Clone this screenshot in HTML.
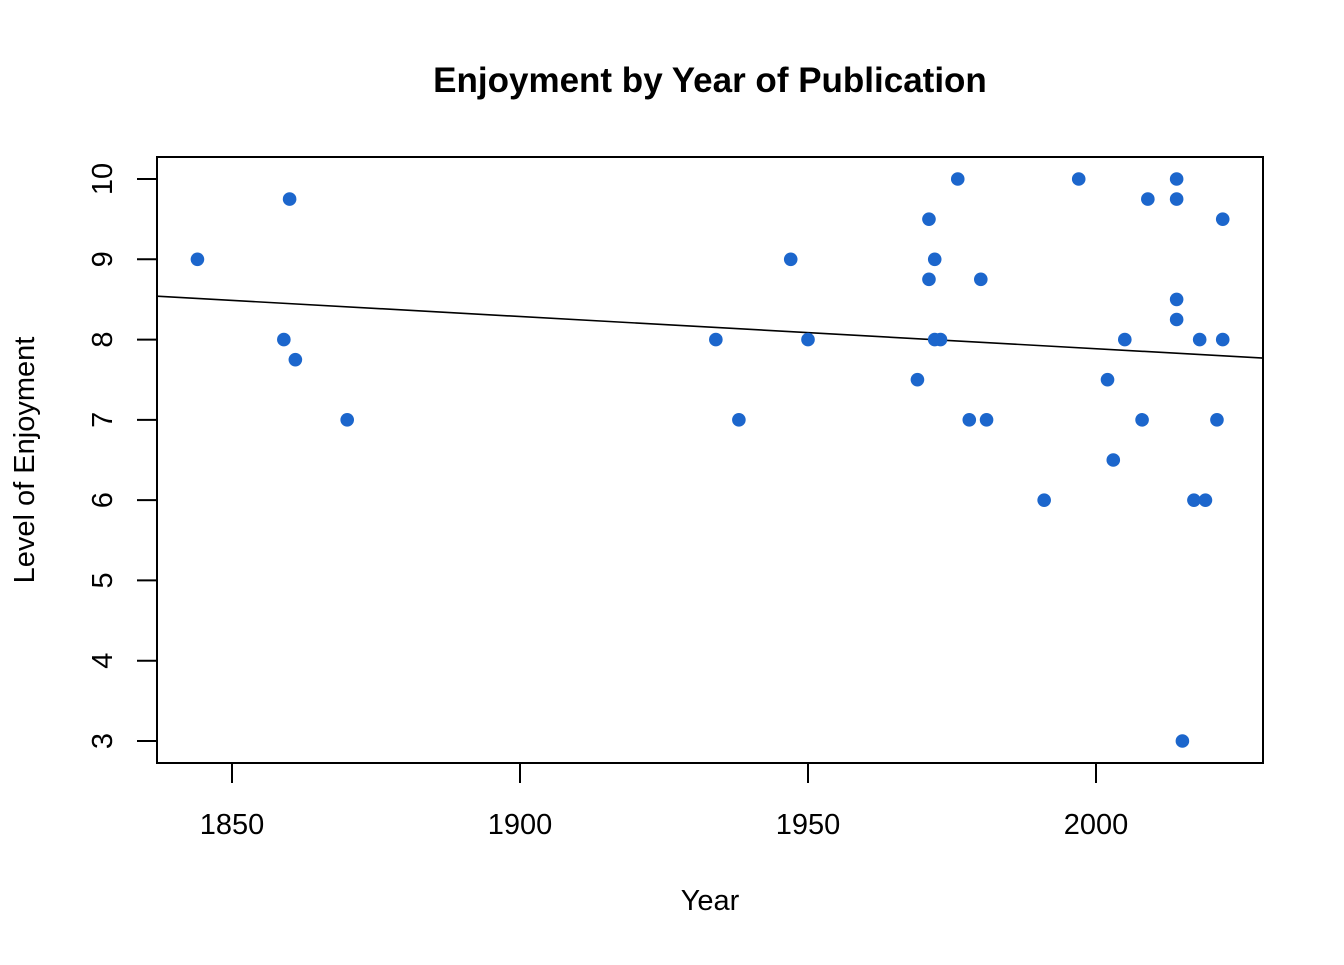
<!DOCTYPE html>
<html><head><meta charset="utf-8"><style>
body{margin:0;background:#fff}
svg text{font-family:"Liberation Sans",Arial,sans-serif}
</style></head><body>
<svg id="chart" width="1344" height="960" xmlns="http://www.w3.org/2000/svg">
<text x="710" y="92" text-anchor="middle" font-size="35" font-weight="bold">Enjoyment by Year of Publication</text>
<rect x="157" y="157" width="1106" height="606" fill="none" stroke="#000" stroke-width="2"/>
<text x="710" y="910" text-anchor="middle" font-size="29">Year</text>
<text transform="translate(34,460) rotate(-90)" text-anchor="middle" font-size="29">Level of Enjoyment</text>
<g id="xaxis"></g>
<g id="yaxis"></g>
<g id="fit"></g>
<g id="pts"></g>
</svg>
<script>
const years=[1844,1859,1860,1861,1870,1934,1938,1947,1950,1969,1971,1971,1972,1972,1973,1976,1978,1980,1981,1991,1997,2002,2003,2005,2008,2009,2014,2014,2014,2014,2015,2017,2018,2019,2021,2022,2022];
const enjoyment=[9,8,9.75,7.75,7,8,7,9,8,7.5,9.5,8.75,9,8,8,10,7,8.75,7,6,10,7.5,6.5,8,7,9.75,10,9.75,8.5,8.25,3,6,8,6,7,9.5,8];
const xTicks=[1850,1900,1950,2000];
const yTicks=[3,4,5,6,7,8,9,10];
const NS="http://www.w3.org/2000/svg";
function X(v){return 232+(v-1850)*5.76;}
function Y(v){return 179+(10-v)*80.286;}
function mk(t,a,p){const e=document.createElementNS(NS,t);for(const k in a)e.setAttribute(k,a[k]);p.appendChild(e);return e;}
const xa=document.getElementById('xaxis'),ya=document.getElementById('yaxis');
xTicks.forEach(v=>{
 const l=mk('line',{x1:X(v),x2:X(v),y1:763,y2:783,stroke:'#000','stroke-width':2},xa);
 
 
 const t=mk('text',{x:X(v),y:834,'text-anchor':'middle','font-size':29},xa);t.textContent=v;
 
 
});
yTicks.forEach(v=>{
 const l=mk('line',{x1:137,x2:157,y1:Y(v),y2:Y(v),stroke:'#000','stroke-width':2},ya);
 
 
 const t=mk('text',{x:0,y:0,'text-anchor':'middle','font-size':29,transform:`translate(112,${Y(v)}) rotate(-90)`},ya);t.textContent=v;
 
 
});
// regression
const n=years.length;let mx=0,my=0;for(let i=0;i<n;i++){mx+=years[i];my+=enjoyment[i];}mx/=n;my/=n;
let sxy=0,sxx=0;for(let i=0;i<n;i++){sxy+=(years[i]-mx)*(enjoyment[i]-my);sxx+=(years[i]-mx)**2;}
const b=sxy/sxx,a=my-b*mx;
const x0=1850+(157-232)/5.76,x1=1850+(1263-232)/5.76;
const fl=mk('line',{x1:157,x2:1263,y1:Y(a+b*x0),y2:Y(a+b*x1),stroke:'#000','stroke-width':1.6},document.getElementById('fit'));


const pg=document.getElementById('pts');
years.forEach((yr,i)=>{
 const c=mk('circle',{cx:X(yr),cy:Y(enjoyment[i]),r:6.8,fill:'#1c66cc'},pg);
 
 
});
</script>
</body></html>
